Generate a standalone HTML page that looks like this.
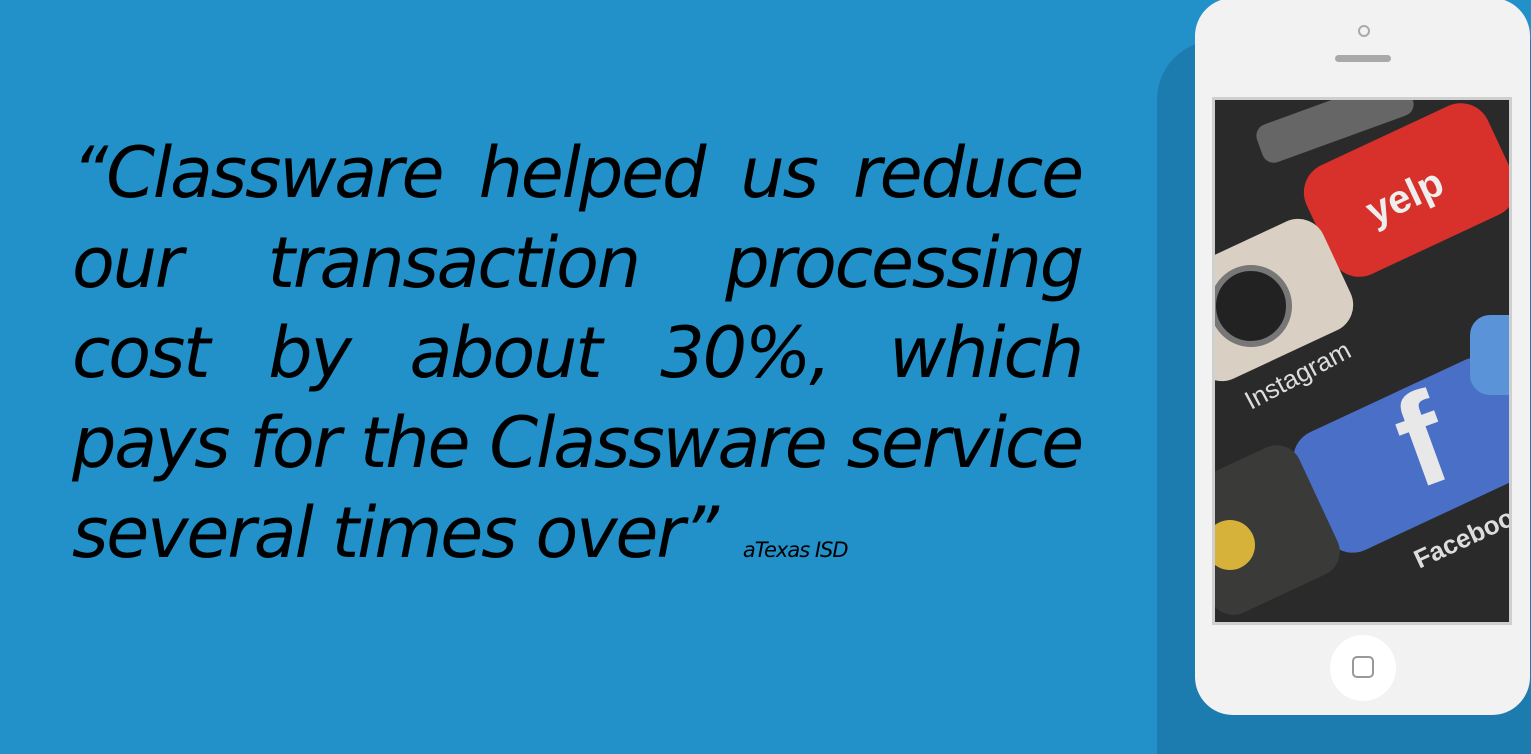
<!DOCTYPE html>
<html><head><meta charset="utf-8">
<style>
html,body{margin:0;padding:0;width:1531px;height:754px;overflow:hidden}
body{background:#2290c9;position:relative;font-family:"DejaVu Sans",sans-serif}
.quote{position:absolute;left:72px;top:128px;width:1010px;font-style:italic;font-size:70px;line-height:90px;color:#000;letter-spacing:-2.2px}
.line{display:block;text-align:justify;text-align-last:justify;white-space:nowrap}
.last{text-align-last:left}
.src{font-size:21px;letter-spacing:-1px;margin-left:6px}
.shadow{position:absolute;left:1157px;top:40px;width:374px;height:714px;background:#1c7cb0;border-radius:60px 0 0 0}
.phone{position:absolute;left:1195px;top:-2px;width:335px;height:717px;background:#f2f2f2;border-radius:38px}
.screen{position:absolute;left:1212px;top:97px;width:300px;height:528px;background:#2b2a2b;border:3px solid #cfcfcf;box-sizing:border-box;overflow:hidden}
</style></head>
<body>
<div class="quote">
<span class="line">“Classware helped us reduce</span>
<span class="line">our transaction processing</span>
<span class="line">cost by about 30%, which</span>
<span class="line">pays for the Classware service</span>
<span class="line last">several times over” <span class="src">aTexas ISD</span></span>
</div>
<div class="shadow"></div>
<div class="phone">
  <div style="position:absolute;left:163px;top:27px;width:8px;height:8px;border:2px solid #aaa;border-radius:50%"></div>
  <div style="position:absolute;left:140px;top:57px;width:56px;height:7px;background:#a9a9a9;border-radius:4px"></div>
  <div style="position:absolute;left:135px;top:637px;width:66px;height:66px;background:#fff;border-radius:50%">
    <div style="position:absolute;left:22px;top:21px;width:18px;height:18px;border:2px solid #999;border-radius:5px"></div>
  </div>
</div>
<div class="screen">
  <div style="position:absolute;left:95px;top:30px;width:200px;height:120px;background:#d8312b;border-radius:30px;transform:rotate(-25deg)"></div>
  <div style="position:absolute;left:150px;top:75px;color:#eee;font:bold 40px 'Liberation Sans',sans-serif;transform:rotate(-25deg)">yelp</div>
  <div style="position:absolute;left:-40px;top:140px;width:170px;height:120px;background:#d9d0c3;border-radius:28px;transform:rotate(-25deg)"></div>
  <div style="position:absolute;left:-5px;top:165px;width:70px;height:70px;background:#222;border:6px solid #777;border-radius:50%"></div>
  <div style="position:absolute;left:25px;top:260px;color:#ddd;font:26px 'Liberation Sans',sans-serif;transform:rotate(-28deg)">Instagram</div>
  <div style="position:absolute;left:85px;top:290px;width:230px;height:130px;background:#4a6fc7;border-radius:30px;transform:rotate(-25deg)"></div>
  <div style="position:absolute;left:185px;top:265px;color:#e8e8e8;font:bold 130px 'Liberation Sans',sans-serif;transform:rotate(-20deg)">f</div>
  <div style="position:absolute;left:195px;top:420px;color:#ddd;font:bold 26px 'Liberation Sans',sans-serif;transform:rotate(-25deg)">Facebook</div>
  <div style="position:absolute;left:255px;top:215px;width:80px;height:80px;background:#5a93d8;border-radius:20px"></div>
  <div style="position:absolute;left:-30px;top:360px;width:140px;height:140px;background:#3a3a38;border-radius:25px;transform:rotate(-25deg)"></div>
  <div style="position:absolute;left:-10px;top:420px;width:50px;height:50px;background:#d6b23a;border-radius:50%"></div>
  <div style="position:absolute;left:40px;top:0px;width:160px;height:40px;background:#666;border-radius:12px;transform:rotate(-20deg)"></div>
</div>
</body></html>
